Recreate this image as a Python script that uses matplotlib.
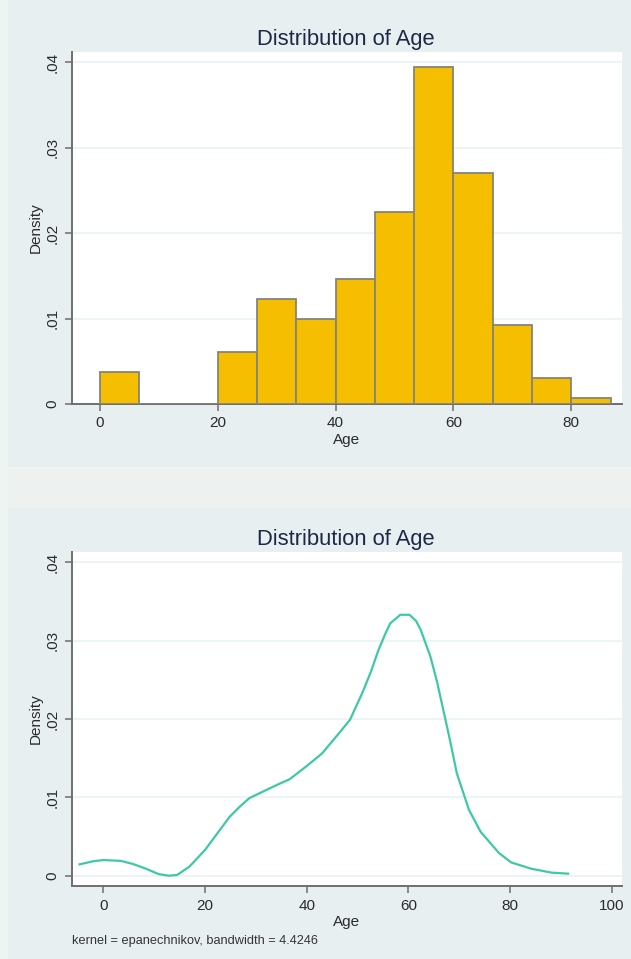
import numpy as np
import matplotlib.pyplot as plt
from matplotlib.patches import Rectangle

# histogram: bins of width 20/3 starting at 0
bin_start = 0.0
bin_width = 20 / 3
hist_density = [0.0038, 0.0, 0.0, 0.0061, 0.0123, 0.0100, 0.0146,
                0.0224, 0.0394, 0.0270, 0.0092, 0.0030, 0.0007]

# kernel density curve
kde_age = [-4.7, -2.0, 0.0, 3.4, 5.8, 8.2, 10.9, 12.9, 14.5, 16.9, 20.0,
           22.4, 24.8, 26.8, 28.7, 31.9, 34.5, 36.6, 39.8, 43.0, 46.1, 48.5,
           50.9, 52.6, 54.1, 55.4, 56.4, 58.4, 60.2, 61.5, 62.4, 64.3, 65.6,
           66.7, 68.2, 69.5, 71.9, 74.2, 77.8, 80.2, 84.1, 88.1, 91.4]
kde_density = [0.00145, 0.00185, 0.0020, 0.0019, 0.0015, 0.00094, 0.0002,
               0.0, 0.0001, 0.00115, 0.0033, 0.0054, 0.0075, 0.0088, 0.0099,
               0.0109, 0.0117, 0.0123, 0.0139, 0.0156, 0.0180, 0.0199,
               0.0233, 0.0260, 0.0288, 0.0308, 0.0322, 0.0333, 0.0333,
               0.0325, 0.0314, 0.0280, 0.0248, 0.0216, 0.0172, 0.0131,
               0.0084, 0.0056, 0.0029, 0.0017, 0.0009, 0.0004, 0.00026]

y_ticks = [0, 0.01, 0.02, 0.03, 0.04]
y_labels = ["0", ".01", ".02", ".03", ".04"]
hist_xticks = [0, 20, 40, 60, 80]
kde_xticks = [0, 20, 40, 60, 80, 100]

title = "Distribution of Age"
footnote = "kernel = epanechnikov, bandwidth = 4.4246"

W, H = 631, 959
bg = "#e8eff1"
axis_col = "#6e6e6e"
text_col = "#2b2b2b"

plt.rcParams['font.family'] = ['Liberation Sans', 'DejaVu Sans']

fig = plt.figure(figsize=(W / 100, H / 100), dpi=100, facecolor=bg)
# lighter strips of the screenshot background
fig.patches.append(Rectangle((0, 1 - 507 / H), 1, 40 / H, transform=fig.transFigure,
                             color="#edf2f1", zorder=0))
fig.patches.append(Rectangle((0, 0), 7 / W, 1, transform=fig.transFigure,
                             color="#eef4f1", zorder=0))


def px_axes(x0, x1, ytop, ybot):
    return fig.add_axes([x0 / W, 1 - ybot / H, (x1 - x0) / W, (ybot - ytop) / H])


def style(ax, xticks):
    ax.set_facecolor("white")
    for s in ["top", "right"]:
        ax.spines[s].set_visible(False)
    for s in ["left", "bottom"]:
        ax.spines[s].set_color(axis_col)
        ax.spines[s].set_linewidth(1.4)
    ax.set_yticks(y_ticks)
    ax.set_yticklabels(y_labels, rotation=90, va="center")
    ax.set_xticks(xticks)
    ax.tick_params(axis="both", direction="out", length=5, width=1.1,
                   color=axis_col, labelcolor=text_col, labelsize=11)
    ax.tick_params(axis="x", pad=4)
    ax.tick_params(axis="y", pad=4)
    ax.grid(axis="y", color="#eaf2f4", lw=1.2)
    ax.set_axisbelow(True)
    ax.set_xlabel("Age", fontsize=11, color=text_col, labelpad=1.5)
    ax.set_ylabel("Density", fontsize=11, color=text_col, labelpad=2)


# top: histogram
ax1 = px_axes(72, 622, 52, 404)
edges = bin_start + bin_width * np.arange(len(hist_density))
ax1.bar(edges, hist_density, width=bin_width, align="edge",
        color="#f5bf00", edgecolor="#85857a", linewidth=1.3, zorder=3)
ax1.set_xlim(-4.72, 88.6)
ax1.set_ylim(0, 0.04117)
style(ax1, hist_xticks)
fig.text(346 / W, 1 - 45 / H, title, ha="center", va="baseline",
         fontsize=15.8, color="#1c2846")

# bottom: kernel density
ax2 = px_axes(72, 622, 552, 886)
ax2.plot(kde_age, kde_density, color="#3ec9a6", lw=1.6, zorder=3)
ax2.set_xlim(-6.18, 102.0)
ax2.set_ylim(-0.00131, 0.04131)
style(ax2, kde_xticks)
fig.text(346 / W, 1 - 545 / H, title, ha="center", va="baseline",
         fontsize=15.8, color="#1c2846")
fig.text(72 / W, 1 - 941 / H, footnote, ha="left", va="center",
         fontsize=9.2, color="#333333")

fig.savefig("out.png", dpi=100, facecolor=bg)
